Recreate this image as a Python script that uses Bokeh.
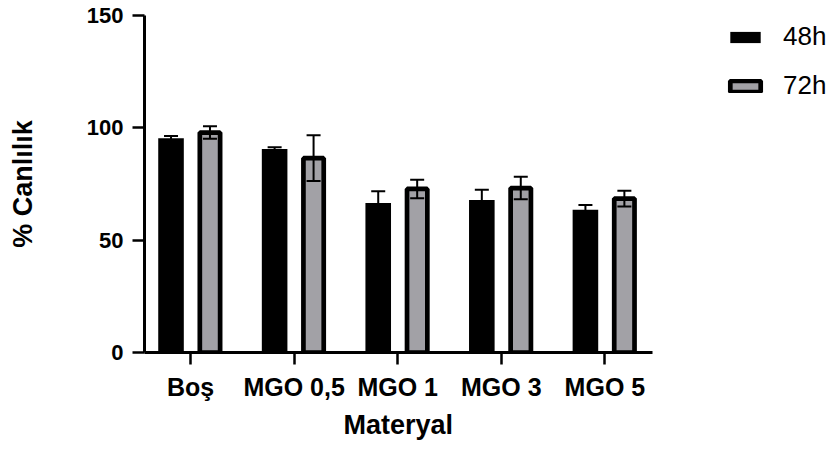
from bokeh.plotting import figure
from bokeh.models import ColumnDataSource, Range1d, Whisker, FixedTicker, Legend, LegendItem, TeeHead, Title
from bokeh.transform import dodge
from bokeh.embed import file_html
from bokeh.resources import INLINE

categories = ["Boş", "MGO 0,5", "MGO 1", "MGO 3", "MGO 5"]
mean_48h = [95.4, 90.6, 66.5, 67.9, 63.5]
err_48h = [1.0, 0.8, 5.3, 4.5, 2.1]
mean_72h = [97.9, 86.5, 72.8, 73.2, 68.5]
err_72h = [2.8, 10.2, 4.1, 5.0, 3.5]
y_ticks = [0, 50, 100, 150]

idx = list(range(len(categories)))
src = ColumnDataSource(dict(
    x=idx,
    m48=mean_48h, m72=mean_72h,
    up48=[m + e for m, e in zip(mean_48h, err_48h)],
    lo48=[m - e for m, e in zip(mean_48h, err_48h)],
    up72=[m + e for m, e in zip(mean_72h, err_72h)],
    lo72=[m - e for m, e in zip(mean_72h, err_72h)],
))

FONT = "Liberation Sans"
X0, X1 = -0.444, 4.46

p = figure(width=826, height=443, output_backend="svg", toolbar_location=None,
           x_range=Range1d(X0, 6.139), y_range=Range1d(0, 150),
           min_border_left=144, min_border_right=0, min_border_top=15, min_border_bottom=91)
p.outline_line_color = None
p.grid.visible = False
p.background_fill_color = "white"
p.border_fill_color = "white"

r48 = p.vbar(x=dodge("x", -0.188, range=p.x_range), top="m48", width=0.247, bottom=0,
             source=src, fill_color="black", line_color=None)
r72 = p.vbar(x=dodge("x", 0.188, range=p.x_range), top="m72", width=0.196, bottom=0,
             source=src, fill_color="#A2A1A6", line_color="black", line_width=4.7)

for off, up, lo in [(-0.188, "up48", "lo48"), (0.188, "up72", "lo72")]:
    w = Whisker(base=dodge("x", off, range=p.x_range), upper=up, lower=lo, source=src,
                line_color="black", line_width=2, level="overlay",
                upper_head=TeeHead(size=14, line_width=2, line_color="black"),
                lower_head=TeeHead(size=14, line_width=2, line_color="black"))
    p.add_layout(w)

for ax in (p.xaxis[0], p.yaxis[0]):
    ax.axis_line_width = 3
    ax.axis_line_color = "black"
    ax.major_tick_line_width = 2.5
    ax.major_tick_line_color = "black"
    ax.major_tick_in = 0
    ax.major_tick_out = 12
    ax.minor_tick_line_color = None
    ax.major_label_text_font = FONT
    ax.major_label_text_font_style = "bold"
    ax.major_label_text_color = "black"
    ax.axis_label_text_font = FONT
    ax.axis_label_text_font_style = "bold"
    ax.axis_label_text_color = "black"
    ax.axis_label_text_font_size = "27px"

p.xaxis.bounds = (X0, X1)
p.xaxis.ticker = FixedTicker(ticks=idx)
p.xaxis.major_label_overrides = {i: c for i, c in zip(idx, categories)}
p.xaxis.major_label_text_font_size = "25px"
p.xaxis.major_label_standoff = 8

p.yaxis.ticker = FixedTicker(ticks=y_ticks)
p.yaxis.major_label_text_font_size = "22px"
p.yaxis.major_label_standoff = 9
p.yaxis.axis_label = "% Canlılık"
p.yaxis.axis_label_standoff = 46

xlabel = Title(text="Materyal", align="left", offset=199, standoff=8,
               vertical_align="bottom",
               text_font=FONT, text_font_style="bold", text_font_size="27px",
               text_color="black")
p.add_layout(xlabel, "below")

legend = Legend(items=[LegendItem(label="48h", renderers=[r48]),
                       LegendItem(label="72h", renderers=[r72])],
                location=(582, 251), padding=0, margin=0, border_line_color=None,
                background_fill_alpha=0, glyph_width=38, glyph_height=14,
                label_standoff=19, spacing=18, label_text_font=FONT,
                label_text_font_size="26px", label_text_color="black")
p.add_layout(legend)

open("out.html", "w").write(file_html(p, INLINE))
